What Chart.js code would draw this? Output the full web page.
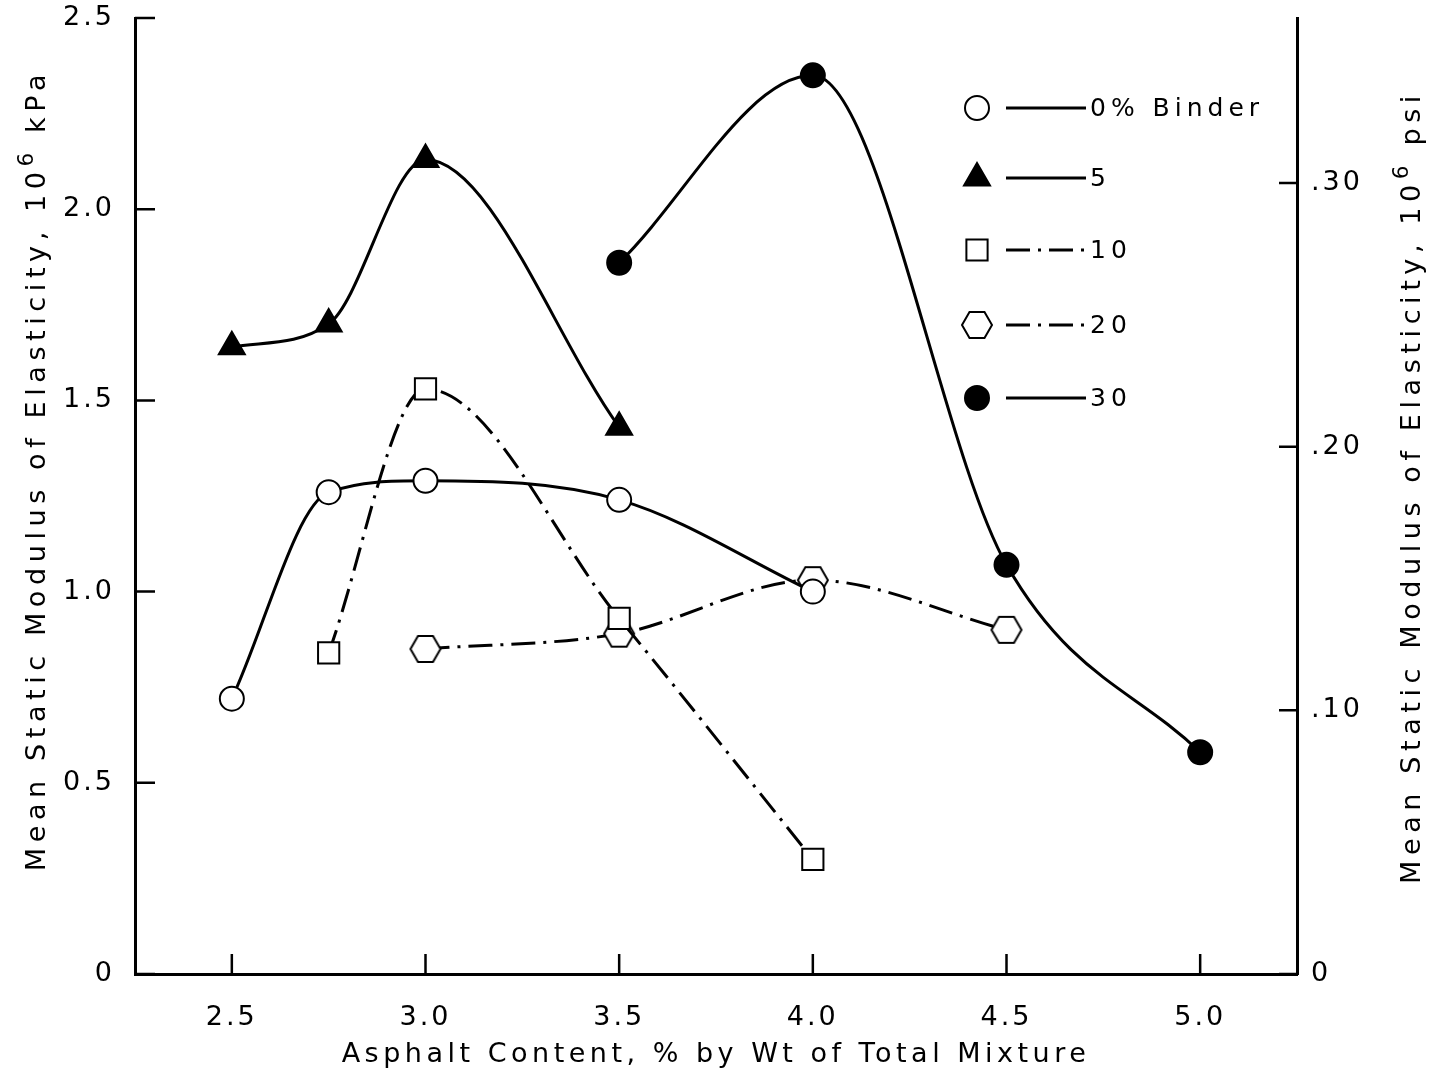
<!DOCTYPE html>
<html>
<head>
<meta charset="utf-8">
<script src="https://cdn.jsdelivr.net/npm/chart.js@4.4.1/dist/chart.umd.min.js"></script>
<style>
  html, body { margin: 0; padding: 0; background: #fff; }
  #wrap { width: 1436px; height: 1073px; }
</style>
</head>
<body>
<div id="wrap"><canvas id="modulusChart" width="1436" height="1073"></canvas></div>
<script>
// asphalt content (% by wt) and mean static modulus (10^6 kPa), one pair of arrays per binder level
const binder0X = [2.5, 2.75, 3.0, 3.5, 4.0];
const binder0Y = [0.72, 1.26, 1.29, 1.24, 1.00];
const binder5X = [2.5, 2.75, 3.0, 3.5];
const binder5Y = [1.64, 1.70, 2.13, 1.43];
const binder10X = [2.75, 3.0, 3.5, 4.0];
const binder10Y = [0.84, 1.53, 0.93, 0.30];
const binder20X = [3.0, 3.5, 4.0, 4.5];
const binder20Y = [0.85, 0.89, 1.03, 0.90];
const binder30X = [3.5, 4.0, 4.5, 5.0];
const binder30Y = [1.86, 2.35, 1.07, 0.58];

const legendLabels = ['0% Binder', '5', '10', '20', '30'];
const xTicks = [2.5, 3.0, 3.5, 4.0, 4.5, 5.0];
const kpaTicks = [0, 0.5, 1.0, 1.5, 2.0, 2.5];
const psiTicks = [0, 0.1, 0.2, 0.3];
const kpaPerPsi = 6.895;

// titles split so the exponent can be raised
const xTitle = [['Asphalt Content, % by Wt of Total Mixture', 0]];
const leftTitle = [['Mean Static Modulus of Elasticity, 10', 0], ['6', 1], [' kPa', 0]];
const rightTitle = [['Mean Static Modulus of Elasticity, 10', 0], ['6', 1], [' psi', 0]];

const FONT = '"DejaVu Sans", sans-serif';
const solid = [];
const dashDot = [24, 8, 3, 8];

// hexagon marker as an image
function hexagon() {
  const c = document.createElement('canvas');
  c.width = 34; c.height = 30;
  const g = c.getContext('2d');
  g.beginPath();
  g.moveTo(2, 15); g.lineTo(9.5, 2); g.lineTo(24.5, 2);
  g.lineTo(32, 15); g.lineTo(24.5, 28); g.lineTo(9.5, 28);
  g.closePath();
  g.fillStyle = '#fff'; g.fill();
  g.lineWidth = 2; g.strokeStyle = '#000'; g.stroke();
  return c;
}
const hexImg = hexagon();

const pts = (xs, ys) => xs.map((x, i) => ({x: x, y: ys[i]}));

const series = [
  {xs: binder0X, ys: binder0Y, style: 'circle', radius: 12, fill: '#fff', dash: solid},
  {xs: binder5X, ys: binder5Y, style: 'triangle', radius: 15, fill: '#000', dash: solid},
  {xs: binder10X, ys: binder10Y, style: 'rect', radius: 15, fill: '#fff', dash: dashDot},
  {xs: binder20X, ys: binder20Y, style: hexImg, radius: 15, fill: '#fff', dash: dashDot},
  {xs: binder30X, ys: binder30Y, style: 'circle', radius: 12, fill: '#000', dash: solid}
];

const datasets = series.map((s, i) => ({
  label: legendLabels[i],
  data: pts(s.xs, s.ys),
  showLine: true,
  cubicInterpolationMode: 'monotone',
  borderColor: '#000',
  borderWidth: 3,
  borderDash: s.dash,
  pointStyle: s.style,
  pointRadius: s.radius,
  pointBackgroundColor: s.fill,
  pointBorderColor: '#000',
  pointBorderWidth: 2,
  pointHoverRadius: s.radius
}));

const fixTicks = (vals) => (scale) => { scale.ticks = vals.map(v => ({value: v})); };
const fixWidth = (w) => (scale) => { scale.width = w; scale.paddingTop = 0; scale.paddingBottom = 0; };

// draw text pieces centred on (0,0); raised pieces get a smaller font
function drawPieces(ctx, pieces, size, spacing) {
  ctx.letterSpacing = spacing + 'px';
  const widths = pieces.map(p => {
    ctx.font = (p[1] ? size * 0.8 : size) + 'px ' + FONT;
    return ctx.measureText(p[0]).width;
  });
  let x = -widths.reduce((a, b) => a + b, 0) / 2;
  ctx.textAlign = 'left';
  ctx.textBaseline = 'alphabetic';
  pieces.forEach((p, i) => {
    ctx.font = (p[1] ? size * 0.8 : size) + 'px ' + FONT;
    ctx.fillText(p[0], x, size * 0.36 - (p[1] ? size * 0.45 : 0));
    x += widths[i];
  });
}

// inward tick marks, axis titles and the in-plot legend
const decor = {
  id: 'decor',
  beforeDraw(chart) {
    chart.ctx.letterSpacing = '3px';
  },
  afterDraw(chart) {
    const ctx = chart.ctx;
    const a = chart.chartArea;
    const sx = chart.scales.x, sy = chart.scales.y, sp = chart.scales.y2;
    ctx.save();
    ctx.strokeStyle = '#000';
    ctx.lineWidth = 2.5;
    ctx.beginPath();
    kpaTicks.forEach(v => { const y = sy.getPixelForValue(v); ctx.moveTo(a.left, y); ctx.lineTo(a.left + 20, y); });
    xTicks.forEach(v => { const x = sx.getPixelForValue(v); ctx.moveTo(x, a.bottom); ctx.lineTo(x, a.bottom - 20); });
    psiTicks.forEach(v => { const y = sp.getPixelForValue(v); ctx.moveTo(a.right, y); ctx.lineTo(a.right - 18, y); });
    ctx.stroke();

    // titles
    ctx.fillStyle = '#000';
    ctx.save();
    ctx.translate((a.left + a.right) / 2, 1052);
    drawPieces(ctx, xTitle, 27, 4.5);
    ctx.restore();
    ctx.save();
    ctx.translate(35, 470);
    ctx.rotate(-Math.PI / 2);
    drawPieces(ctx, leftTitle, 27, 5.6);
    ctx.restore();
    ctx.save();
    ctx.translate(1410, 487);
    ctx.rotate(-Math.PI / 2);
    drawPieces(ctx, rightTitle, 27, 5.6);
    ctx.restore();

    // legend
    const rows = [108, 178, 250, 325, 398];
    ctx.font = '25px ' + FONT;
    ctx.letterSpacing = '5px';
    ctx.textAlign = 'left';
    ctx.textBaseline = 'middle';
    chart.data.datasets.forEach((ds, i) => {
      const y = rows[i];
      ctx.save();
      ctx.lineWidth = 2;
      ctx.strokeStyle = '#000';
      ctx.fillStyle = ds.pointBackgroundColor;
      Chart.helpers.drawPoint(ctx, {pointStyle: ds.pointStyle, rotation: 0, borderWidth: 2, radius: ds.pointRadius}, 977, y);
      ctx.restore();
      ctx.save();
      ctx.lineWidth = 3;
      ctx.setLineDash(ds.borderDash);
      ctx.beginPath();
      ctx.moveTo(1006, y);
      ctx.lineTo(1086, y);
      ctx.stroke();
      ctx.restore();
      ctx.fillText(ds.label, 1090, y + 1);
    });
    ctx.restore();
  }
};

new Chart(document.getElementById('modulusChart'), {
  type: 'scatter',
  data: {datasets: datasets},
  plugins: [decor],
  options: {
    responsive: false,
    animation: false,
    events: [],
    layout: {padding: {top: 18, left: 0, right: 0, bottom: 0}},
    plugins: {legend: {display: false}, tooltip: {enabled: false}},
    scales: {
      x: {
        type: 'linear',
        min: 2.25, max: 5.25,
        afterBuildTicks: fixTicks(xTicks),
        afterFit: (s) => { s.height = 99; },
        grid: {display: false},
        border: {display: true, color: '#000', width: 3},
        ticks: {
          padding: 20,
          color: '#000',
          font: {family: FONT, size: 27},
          callback: (v) => v.toFixed(1)
        }
      },
      y: {
        type: 'linear',
        position: 'left',
        min: 0, max: 2.5,
        afterBuildTicks: fixTicks(kpaTicks),
        afterFit: fixWidth(135),
        grid: {display: false},
        border: {display: true, color: '#000', width: 3},
        ticks: {
          padding: 12,
          color: '#000',
          font: {family: FONT, size: 27},
          callback: (v) => v === 0 ? '0' : v.toFixed(1)
        }
      },
      y2: {
        type: 'linear',
        position: 'right',
        min: 0, max: 2.5 / kpaPerPsi,
        afterBuildTicks: fixTicks(psiTicks),
        afterFit: fixWidth(139),
        grid: {display: false},
        border: {display: true, color: '#000', width: 3},
        ticks: {
          padding: 6,
          color: '#000',
          font: {family: FONT, size: 27},
          callback: (v) => v === 0 ? '0' : '.' + String(Math.round(v * 100)).padStart(2, '0')
        }
      }
    }
  }
});
</script>
</body>
</html>
